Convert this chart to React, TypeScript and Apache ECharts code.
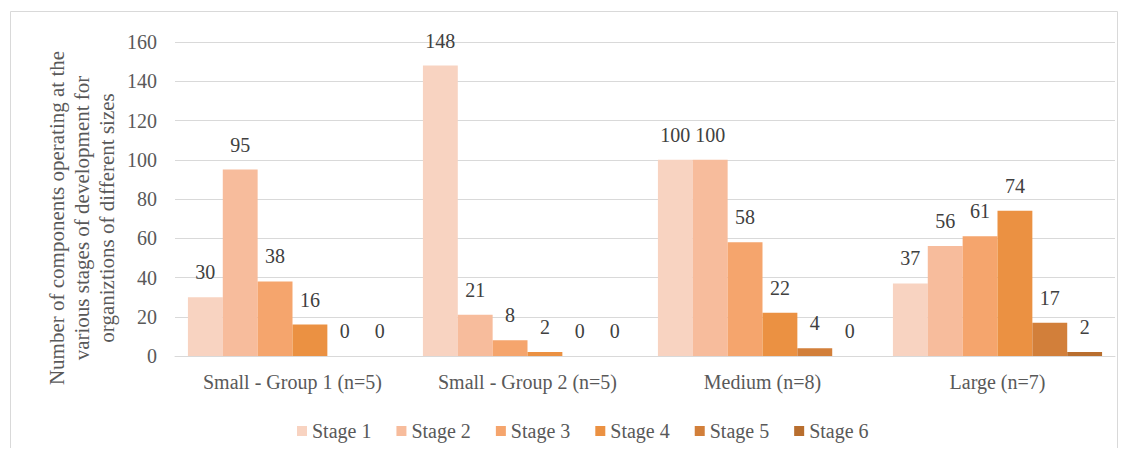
import React, { useEffect, useRef } from "react";
import * as echarts from "echarts";

const categories = ["Small - Group 1 (n=5)", "Small - Group 2 (n=5)", "Medium (n=8)", "Large (n=7)"];
const stageNames = ["Stage 1", "Stage 2", "Stage 3", "Stage 4", "Stage 5", "Stage 6"];
const stage1 = [30, 148, 100, 37];
const stage2 = [95, 21, 100, 56];
const stage3 = [38, 8, 58, 61];
const stage4 = [16, 2, 22, 74];
const stage5 = [0, 0, 4, 17];
const stage6 = [0, 0, 0, 2];
const stageValues = [stage1, stage2, stage3, stage4, stage5, stage6];
const colors = ["#F8D3C1", "#F7BC9C", "#F5A56D", "#EB9142", "#D27F3A", "#B86E2E"];
const yTicks = { min: 0, max: 160, interval: 20 };
const yTitle = "Number of components operating at the\nvarious stages of development for\norganiztions of different sizes";

const FONT = "'Liberation Serif', 'Times New Roman', serif";

export default function App() {
  const ref = useRef<HTMLDivElement>(null);
  useEffect(() => {
    if (!ref.current) return;
    const chart = echarts.init(ref.current, undefined, { renderer: "svg" });
    chart.setOption({
      animation: false,
      textStyle: { fontFamily: FONT },
      graphic: [
        {
          type: "rect",
          shape: { x: 2.5, y: 3.5, width: 1107, height: 440 },
          style: { fill: "none", stroke: "#D9D9D9", lineWidth: 1 },
          silent: true,
        },
        {
          type: "text",
          x: 74,
          y: 210,
          rotation: Math.PI / 2,
          silent: true,
          style: {
            text: yTitle,
            fontFamily: FONT,
            fontSize: 21,
            lineHeight: 25,
            fill: "#595959",
            align: "center",
            verticalAlign: "middle",
          },
        },
      ],
      legend: {
        bottom: 2,
        left: 284,
        itemWidth: 10,
        itemHeight: 10,
        itemGap: 25,
        icon: "rect",
        textStyle: { fontFamily: FONT, fontSize: 20, color: "#595959" },
        data: stageNames,
      },
      grid: { left: 167, top: 34, width: 940, height: 314, containLabel: false },
      xAxis: {
        type: "category",
        data: categories,
        axisLine: { lineStyle: { color: "#D9D9D9" } },
        axisTick: { show: false },
        axisLabel: { fontFamily: FONT, fontSize: 20, color: "#595959", margin: 16 },
      },
      yAxis: {
        type: "value",
        min: yTicks.min,
        max: yTicks.max,
        interval: yTicks.interval,
        axisLine: { show: false },
        axisTick: { show: false },
        splitLine: { lineStyle: { color: "#D9D9D9" } },
        axisLabel: { fontFamily: FONT, fontSize: 20, color: "#595959", margin: 18 },
      },
      series: stageNames.map((name, i) => ({
        name,
        type: "bar",
        data: stageValues[i],
        barGap: "0%",
        barCategoryGap: "11%",
        itemStyle: { color: colors[i] },
        label: {
          show: true,
          position: "top",
          distance: 15,
          fontFamily: FONT,
          fontSize: 20,
          color: "#404040",
        },
      })),
    });
    return () => chart.dispose();
  }, []);
  return <div ref={ref} style={{ width: 1112, height: 440 }} />;
}
